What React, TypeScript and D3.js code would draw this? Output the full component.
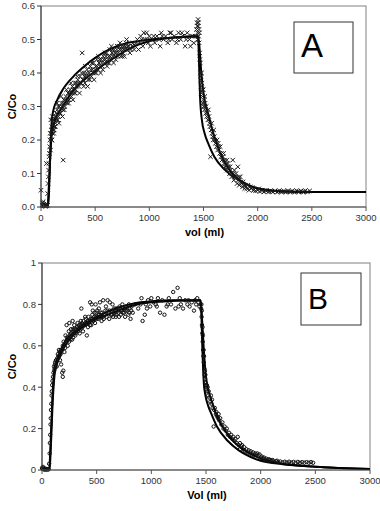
import React from 'react';
import * as d3 from 'd3';

type Pt = [number, number];

// x ticks shared by both panels
const volTicks = [0, 500, 1000, 1500, 2000, 2500, 3000];
const ticksA = [0, 0.1, 0.2, 0.3, 0.4, 0.5, 0.6];
const ticksB = [0, 0.2, 0.4, 0.6, 0.8, 1];

// Panel A - measured points (x markers)
const dataA: Pt[] = [
  [0, 0.05], [10, 0.005], [15, 0.012], [20, 0.016], [25, 0.008], [30, 0.003], [35, 0.006], [40, 0.002],
  [45, 0.004], [50, 0.13], [52, 0.01], [55, 0.003], [60, 0.005], [62, 0.04], [65, 0.07], [68, 0.09],
  [70, 0.11], [72, 0.13], [75, 0.15], [78, 0.16], [80, 0.18], [82, 0.2], [85, 0.22], [88, 0.17],
  [90, 0.26], [92, 0.21], [95, 0.23], [98, 0.2], [100, 0.24], [105, 0.22], [110, 0.25], [115, 0.23],
  [120, 0.26], [125, 0.24], [130, 0.27], [135, 0.25], [140, 0.28], [145, 0.26], [150, 0.29], [160, 0.27],
  [170, 0.3], [180, 0.28], [190, 0.31], [200, 0.29], [205, 0.14], [210, 0.32], [220, 0.3], [230, 0.33],
  [240, 0.31], [250, 0.34], [260, 0.32], [270, 0.35], [280, 0.33], [290, 0.36], [300, 0.34], [310, 0.37],
  [320, 0.35], [330, 0.36], [340, 0.38], [350, 0.36], [360, 0.39], [370, 0.37], [380, 0.46], [385, 0.38],
  [395, 0.4], [405, 0.37], [415, 0.39], [425, 0.41], [435, 0.38], [445, 0.4], [455, 0.42], [465, 0.39],
  [475, 0.41], [485, 0.43], [495, 0.4], [505, 0.42], [515, 0.44], [525, 0.41], [535, 0.43], [545, 0.42],
  [555, 0.44], [565, 0.42], [575, 0.45], [585, 0.43], [595, 0.44], [605, 0.46], [615, 0.43], [625, 0.45],
  [635, 0.47], [645, 0.44], [655, 0.46], [665, 0.45], [675, 0.47], [685, 0.45], [695, 0.46], [705, 0.48],
  [715, 0.46], [725, 0.47], [735, 0.45], [745, 0.48], [755, 0.46], [765, 0.48], [775, 0.47], [785, 0.49],
  [795, 0.47], [810, 0.48], [830, 0.47], [850, 0.49], [870, 0.48], [890, 0.5], [910, 0.49], [920, 0.51],
  [940, 0.48], [960, 0.5], [975, 0.52], [990, 0.49], [1010, 0.48], [1030, 0.5], [1050, 0.49], [1070, 0.51],
  [1090, 0.5], [1110, 0.52], [1130, 0.5], [1150, 0.51], [1170, 0.49], [1190, 0.52], [1210, 0.5], [1230, 0.51],
  [1250, 0.49], [1270, 0.52], [1290, 0.5], [1310, 0.51], [1330, 0.48], [1350, 0.52], [1370, 0.5], [1390, 0.51],
  [1410, 0.49], [1425, 0.51], [1435, 0.53], [1440, 0.55], [1445, 0.52], [1450, 0.56], [1452, 0.54], [1455, 0.51],
  [1458, 0.53], [1460, 0.49], [1465, 0.46], [1470, 0.43], [1472, 0.4], [1475, 0.38], [1478, 0.36], [1480, 0.34],
  [1485, 0.37], [1490, 0.33], [1495, 0.31], [1500, 0.32], [1505, 0.3], [1510, 0.29], [1515, 0.31], [1520, 0.28],
  [1530, 0.27], [1540, 0.26], [1550, 0.27], [1560, 0.24], [1565, 0.15], [1570, 0.23], [1580, 0.22], [1590, 0.2],
  [1600, 0.21], [1610, 0.19], [1620, 0.18], [1630, 0.17], [1640, 0.18], [1650, 0.16], [1660, 0.15], [1670, 0.14],
  [1680, 0.15], [1690, 0.13], [1700, 0.12], [1710, 0.13], [1720, 0.11], [1730, 0.12], [1740, 0.1], [1750, 0.11],
  [1760, 0.09], [1770, 0.14], [1775, 0.1], [1780, 0.08], [1790, 0.09], [1800, 0.1], [1810, 0.07], [1817, 0.12],
  [1820, 0.08], [1830, 0.065], [1840, 0.09], [1850, 0.07], [1860, 0.06], [1870, 0.065], [1880, 0.055], [1890, 0.06],
  [1900, 0.055], [1920, 0.05], [1940, 0.055], [1960, 0.05], [1980, 0.048], [2000, 0.05], [2020, 0.046], [2040, 0.049],
  [2060, 0.045], [2080, 0.048], [2100, 0.045], [2120, 0.049], [2140, 0.045], [2160, 0.048], [2180, 0.044], [2200, 0.049],
  [2220, 0.045], [2240, 0.048], [2260, 0.044], [2280, 0.049], [2300, 0.045], [2320, 0.048], [2340, 0.044], [2360, 0.049],
  [2380, 0.045], [2400, 0.048], [2420, 0.044], [2440, 0.049], [2460, 0.045], [2480, 0.048],
];

// extra points thickening the band in panel A
const bandA: Pt[] = [
  [105, 0.27], [118, 0.22], [132, 0.24], [148, 0.31], [165, 0.25], [185, 0.33], [198, 0.27], [215, 0.29],
  [235, 0.35], [255, 0.31], [275, 0.37], [295, 0.32], [315, 0.34], [335, 0.39], [355, 0.34], [375, 0.4],
  [395, 0.36], [410, 0.42], [430, 0.36], [450, 0.38], [470, 0.43], [490, 0.38], [510, 0.4], [530, 0.45],
  [550, 0.4], [570, 0.41], [590, 0.46], [610, 0.42], [630, 0.43], [650, 0.48], [670, 0.43], [690, 0.44],
  [710, 0.45], [730, 0.49], [750, 0.45], [770, 0.45], [790, 0.5], [820, 0.46], [860, 0.47], [900, 0.47],
  [950, 0.52], [1000, 0.51], [1100, 0.48], [1200, 0.52], [1300, 0.52], [1380, 0.48], [1448, 0.5], [1462, 0.52],
  [1482, 0.4], [1498, 0.35], [1525, 0.3], [1545, 0.29], [1575, 0.25], [1595, 0.23], [1625, 0.2], [1655, 0.18],
  [1685, 0.16], [1715, 0.14], [1745, 0.12], [1785, 0.11], [1825, 0.09], [1865, 0.075], [1910, 0.065], [1950, 0.058],
  [2010, 0.054], [2070, 0.05], [2130, 0.047], [2190, 0.047], [2250, 0.046], [2310, 0.046], [2370, 0.046], [2430, 0.046],
];
const bandA2: Pt[] = [
  [102, 0.2], [112, 0.26], [122, 0.23], [138, 0.27], [155, 0.26], [158, 0.3], [175, 0.28], [195, 0.3],
  [208, 0.31], [225, 0.32], [245, 0.32], [265, 0.34], [285, 0.34], [305, 0.35], [325, 0.37], [345, 0.37],
  [365, 0.37], [390, 0.38], [400, 0.39], [420, 0.4], [440, 0.39], [460, 0.41], [480, 0.4], [500, 0.41],
  [520, 0.42], [540, 0.44], [560, 0.43], [580, 0.44], [600, 0.45], [620, 0.44], [640, 0.45], [660, 0.47],
  [680, 0.46], [700, 0.47], [720, 0.48], [740, 0.47], [760, 0.47], [780, 0.48], [800, 0.48], [840, 0.48],
  [880, 0.49], [930, 0.5], [980, 0.5], [1040, 0.51], [1120, 0.51], [1180, 0.5], [1260, 0.5], [1340, 0.5],
  [1400, 0.51], [1443, 0.54], [1447, 0.5], [1453, 0.55], [1467, 0.44], [1476, 0.39], [1488, 0.35], [1502, 0.3],
  [1512, 0.33], [1535, 0.28], [1555, 0.25], [1585, 0.21], [1605, 0.2], [1635, 0.19], [1665, 0.16], [1695, 0.14],
  [1725, 0.13], [1755, 0.1], [1795, 0.085], [1845, 0.075], [1885, 0.065], [1930, 0.06], [1970, 0.052],
];

// Panel A model curves
const fitA: Pt[] = [
  [0, 0], [60, 0], [70, 0.02], [85, 0.15], [100, 0.26], [115, 0.29], [150, 0.32], [200, 0.35], [300, 0.39],
  [400, 0.42], [500, 0.445], [600, 0.465], [700, 0.48], [800, 0.49], [900, 0.495], [1000, 0.5], [1200, 0.505],
  [1450, 0.51], [1457, 0.45], [1468, 0.33], [1485, 0.26], [1510, 0.22], [1550, 0.185], [1600, 0.15], [1700, 0.11],
  [1800, 0.085], [1900, 0.067], [2000, 0.056], [2100, 0.05], [2200, 0.047], [2400, 0.045], [3000, 0.045],
];
const fitA2: Pt[] = [
  [0, 0], [60, 0], [75, 0.08], [90, 0.18], [100, 0.22], [120, 0.25], [150, 0.275], [200, 0.3], [300, 0.35],
  [400, 0.38], [500, 0.405], [600, 0.43], [700, 0.45], [800, 0.47], [900, 0.485], [1000, 0.495], [1200, 0.505],
  [1450, 0.51], [1462, 0.48], [1480, 0.4], [1500, 0.34], [1550, 0.27], [1600, 0.21], [1650, 0.165], [1700, 0.13],
  [1800, 0.09], [1900, 0.068], [2000, 0.055], [2200, 0.047], [2500, 0.045], [3000, 0.045],
];

// Panel B - measured points (open circles)
const dataB: Pt[] = [
  [0, 0.01], [5, 0.005], [10, 0.015], [15, 0.003], [20, 0.008], [25, 0.002], [30, 0.006], [35, 0.004],
  [40, 0.002], [45, 0.005], [50, 0.003], [55, 0.004], [60, 0.003], [65, 0.03], [70, 0.08], [72, 0.13],
  [75, 0.17], [78, 0.22], [80, 0.25], [82, 0.29], [85, 0.32], [88, 0.36], [90, 0.38], [93, 0.41],
  [96, 0.43], [100, 0.45], [105, 0.47], [110, 0.5], [115, 0.49], [120, 0.52], [125, 0.5], [130, 0.53],
  [140, 0.54], [150, 0.55], [160, 0.57], [170, 0.56], [175, 0.51], [180, 0.58], [185, 0.47], [190, 0.45],
  [195, 0.48], [200, 0.6], [210, 0.61], [220, 0.62], [225, 0.7], [230, 0.63], [240, 0.64], [250, 0.71],
  [255, 0.65], [260, 0.63], [270, 0.66], [280, 0.72], [285, 0.64], [290, 0.67], [300, 0.68], [310, 0.66],
  [320, 0.69], [330, 0.67], [340, 0.7], [350, 0.68], [360, 0.78], [365, 0.71], [370, 0.69], [380, 0.72],
  [390, 0.7], [400, 0.73], [410, 0.65], [415, 0.71], [425, 0.74], [435, 0.72], [440, 0.81], [445, 0.73],
  [455, 0.8], [460, 0.75], [470, 0.72], [480, 0.76], [490, 0.8], [495, 0.74], [505, 0.77], [515, 0.73],
  [525, 0.75], [530, 0.81], [540, 0.74], [550, 0.76], [560, 0.82], [570, 0.75], [580, 0.77], [590, 0.74],
  [600, 0.82], [610, 0.76], [620, 0.81], [630, 0.75], [640, 0.77], [650, 0.74], [660, 0.78], [670, 0.76],
  [680, 0.75], [690, 0.78], [700, 0.76], [710, 0.79], [720, 0.75], [730, 0.77], [740, 0.78], [750, 0.76],
  [760, 0.74], [770, 0.79], [780, 0.77], [790, 0.75], [800, 0.78], [810, 0.73], [820, 0.79], [850, 0.8],
  [880, 0.78], [910, 0.83], [920, 0.72], [940, 0.75], [950, 0.8], [970, 0.82], [990, 0.79], [1000, 0.83],
  [1020, 0.81], [1040, 0.8], [1060, 0.83], [1080, 0.76], [1100, 0.82], [1120, 0.75], [1140, 0.79], [1160, 0.83],
  [1180, 0.8], [1200, 0.86], [1220, 0.78], [1240, 0.88], [1250, 0.79], [1270, 0.8], [1290, 0.78], [1310, 0.82],
  [1330, 0.8], [1350, 0.79], [1370, 0.81], [1390, 0.77], [1410, 0.8], [1420, 0.83], [1430, 0.81], [1440, 0.79],
  [1450, 0.8], [1455, 0.78], [1460, 0.74], [1463, 0.7], [1466, 0.66], [1470, 0.62], [1473, 0.58], [1476, 0.55],
  [1480, 0.52], [1484, 0.49], [1488, 0.46], [1492, 0.44], [1496, 0.42], [1500, 0.41], [1505, 0.39], [1510, 0.38],
  [1520, 0.36], [1530, 0.35], [1540, 0.33], [1550, 0.32], [1560, 0.3], [1570, 0.21], [1575, 0.29], [1590, 0.27],
  [1600, 0.26], [1610, 0.25], [1620, 0.24], [1640, 0.22], [1660, 0.2], [1680, 0.19], [1700, 0.17], [1720, 0.16],
  [1740, 0.15], [1760, 0.14], [1780, 0.13], [1790, 0.16], [1800, 0.12], [1810, 0.1], [1820, 0.115], [1840, 0.1],
  [1860, 0.09], [1880, 0.085], [1900, 0.08], [1920, 0.075], [1940, 0.07], [1960, 0.075], [1980, 0.07], [2000, 0.06],
  [2020, 0.055], [2040, 0.05], [2060, 0.045], [2080, 0.05], [2100, 0.045], [2120, 0.04], [2140, 0.042], [2160, 0.038],
  [2180, 0.041], [2200, 0.037], [2220, 0.04], [2240, 0.036], [2260, 0.04], [2280, 0.036], [2300, 0.039], [2320, 0.035],
  [2340, 0.039], [2360, 0.035], [2380, 0.038], [2400, 0.035], [2420, 0.038], [2440, 0.035], [2460, 0.038], [2480, 0.035],
];

const bandB: Pt[] = [
  [135, 0.5], [155, 0.58], [165, 0.53], [190, 0.6], [205, 0.57], [215, 0.65], [235, 0.6], [245, 0.67],
  [265, 0.68], [275, 0.63], [295, 0.7], [305, 0.65], [325, 0.71], [345, 0.66], [355, 0.72], [375, 0.67],
  [395, 0.74], [420, 0.69], [450, 0.7], [465, 0.77], [485, 0.71], [500, 0.73], [520, 0.78], [545, 0.72],
  [565, 0.73], [585, 0.79], [615, 0.73], [645, 0.8], [675, 0.74], [705, 0.74], [735, 0.8], [765, 0.77],
  [795, 0.8], [830, 0.76], [900, 0.8], [960, 0.78], [1050, 0.79], [1150, 0.8], [1260, 0.83], [1340, 0.82],
  [1400, 0.82], [1458, 0.8], [1468, 0.69], [1478, 0.58], [1490, 0.48], [1515, 0.4], [1545, 0.36], [1580, 0.3],
  [1615, 0.27], [1650, 0.23], [1690, 0.2], [1730, 0.17], [1770, 0.15], [1830, 0.12], [1870, 0.1], [1910, 0.09],
  [1950, 0.08], [1990, 0.075], [2030, 0.06], [2070, 0.052], [2110, 0.048], [2150, 0.045],
];
const bandB2: Pt[] = [
  [112, 0.48], [118, 0.51], [128, 0.53], [145, 0.56], [158, 0.55], [172, 0.58], [198, 0.62], [212, 0.59],
  [228, 0.64], [248, 0.62], [262, 0.66], [282, 0.68], [298, 0.66], [315, 0.68], [335, 0.69], [358, 0.7],
  [378, 0.7], [398, 0.71], [418, 0.72], [438, 0.7], [458, 0.73], [478, 0.74], [498, 0.76], [518, 0.75],
  [538, 0.76], [558, 0.74], [578, 0.75], [598, 0.77], [618, 0.77], [638, 0.75], [658, 0.76], [678, 0.78],
  [698, 0.77], [718, 0.77], [738, 0.76], [758, 0.78], [778, 0.78], [798, 0.76], [815, 0.77], [1462, 0.77],
  [1472, 0.65], [1482, 0.55], [1494, 0.46], [1508, 0.41], [1525, 0.38], [1555, 0.34], [1595, 0.28], [1630, 0.25],
  [1670, 0.21], [1710, 0.18], [1750, 0.16], [1810, 0.13], [1850, 0.11], [1890, 0.095], [1930, 0.085], [1970, 0.08],
  [2010, 0.065], [2050, 0.055], [2090, 0.048],
];

const fitB: Pt[] = [
  [0, 0], [65, 0], [80, 0.15], [95, 0.35], [110, 0.47], [125, 0.51], [150, 0.55], [200, 0.61], [300, 0.67],
  [400, 0.71], [500, 0.74], [600, 0.765], [700, 0.785], [800, 0.8], [900, 0.81], [1000, 0.815], [1200, 0.82],
  [1450, 0.82], [1456, 0.78], [1466, 0.6], [1480, 0.42], [1495, 0.36], [1520, 0.31], [1550, 0.27], [1600, 0.21],
  [1700, 0.14], [1800, 0.095], [1900, 0.065], [2000, 0.045], [2200, 0.028], [2500, 0.016], [3000, 0.005],
];
const fitB2: Pt[] = [
  [0, 0], [70, 0], [80, 0.1], [100, 0.35], [120, 0.48], [150, 0.53], [200, 0.59], [300, 0.66], [400, 0.7],
  [500, 0.73], [600, 0.75], [700, 0.77], [800, 0.79], [1000, 0.81], [1450, 0.82], [1465, 0.72], [1480, 0.58],
  [1500, 0.45], [1530, 0.37], [1560, 0.32], [1600, 0.26], [1700, 0.17], [1800, 0.115], [1900, 0.08], [2000, 0.055],
  [2100, 0.04], [2200, 0.03], [2500, 0.016], [3000, 0.005],
];

const FONT = 'Liberation Sans, Arial, sans-serif';

interface PanelProps {
  left: number; right: number; top: number; bottom: number;
  yMax: number; yTicks: number[]; yFmt: (v: number) => string;
  points: Pt[]; lines: Pt[][]; marker: 'x' | 'o';
  xTitle: string; letter: string;
  box: { x: number; y: number; w: number; h: number; size: number };
}

const Panel: React.FC<PanelProps> = (p) => {
  const x = d3.scaleLinear().domain([0, 3000]).range([p.left, p.right]);
  const y = d3.scaleLinear().domain([0, p.yMax]).range([p.bottom, p.top]);
  const line = d3.line<Pt>().x(d => x(d[0])).y(d => y(d[1])).curve(d3.curveMonotoneX);

  return (
    <g>
      {/* frame */}
      <rect x={p.left} y={p.top} width={p.right - p.left} height={p.bottom - p.top}
        fill="white" stroke="#808080" strokeWidth={1} />

      {/* model curves (drawn under the data, as in the original) */}
      {p.lines.map((l, i) => (
        <path key={i} d={line(l) || ''} fill="none" stroke="#000" strokeWidth={2} />
      ))}

      {/* data markers */}
      {p.points.map((d, i) => {
        const cx = x(d[0]), cy = y(d[1]);
        return p.marker === 'x' ? (
          <path key={i} d={`M${cx - 2.2},${cy - 2.2}L${cx + 2.2},${cy + 2.2}M${cx - 2.2},${cy + 2.2}L${cx + 2.2},${cy - 2.2}`}
            stroke="#1a1a1a" strokeWidth={1} fill="none" />
        ) : (
          <circle key={i} cx={cx} cy={cy} r={1.7} fill="none" stroke="#111" strokeWidth={1} />
        );
      })}

      {/* axes */}
      <line x1={p.left} x2={p.left} y1={p.top} y2={p.bottom} stroke="#333" />
      <line x1={p.left} x2={p.right} y1={p.bottom} y2={p.bottom} stroke="#555" />
      {p.yTicks.map(t => (
        <g key={t}>
          <line x1={p.left - 4} x2={p.left} y1={y(t)} y2={y(t)} stroke="#333" />
          <text x={p.left - 6} y={y(t)} dy="0.35em" textAnchor="end" fontSize={9.5} fill="#333"
            fontFamily={FONT}>{p.yFmt(t)}</text>
        </g>
      ))}
      {volTicks.map(t => (
        <g key={t}>
          <line x1={x(t)} x2={x(t)} y1={p.bottom} y2={p.bottom + 4} stroke="#555" />
          <text x={x(t)} y={p.bottom + 14} textAnchor="middle" fontSize={9.5} fill="#333"
            fontFamily={FONT}>{t}</text>
        </g>
      ))}

      {/* titles */}
      <text transform={`translate(16,${(p.top + p.bottom) / 2}) rotate(-90)`} textAnchor="middle"
        fontSize={11} fontWeight="bold" fontFamily={FONT}>C/Co</text>
      <text x={(p.left + p.right) / 2 + 1} y={p.bottom + 29} textAnchor="middle" fontSize={11}
        fontWeight="bold" fontFamily={FONT}>{p.xTitle}</text>

      {/* panel letter */}
      <rect x={p.box.x} y={p.box.y} width={p.box.w} height={p.box.h} fill="#fff" stroke="#333" strokeWidth={1} />
      <text x={p.box.x + 7} y={p.box.y + p.box.h - 16} fontSize={p.box.size} fontFamily={FONT}>{p.letter}</text>
    </g>
  );
};

export default function App() {
  return (
    <svg width={380} height={511} style={{ position: 'absolute', left: 0, top: 0, background: '#fff' }}>
      <Panel left={41} right={366} top={6} bottom={207} yMax={0.6} yTicks={ticksA}
        yFmt={d3.format('.1f')} points={[...dataA, ...bandA, ...bandA2]} lines={[fitA, fitA2]} marker="x"
        xTitle="vol (ml)" letter="A" box={{ x: 294, y: 22, w: 59, h: 51, size: 33 }} />
      <Panel left={42} right={370} top={263} bottom={470} yMax={1} yTicks={ticksB}
        yFmt={(v) => String(v)} points={[...dataB, ...bandB, ...bandB2]} lines={[fitB, fitB2]} marker="o"
        xTitle="Vol (ml)" letter="B" box={{ x: 301, y: 273, w: 60, h: 52, size: 30 }} />
    </svg>
  );
}
